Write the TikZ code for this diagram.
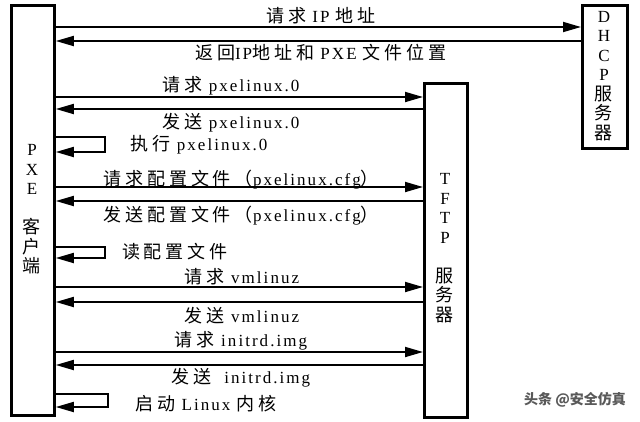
\documentclass[tikz,border=0pt]{standalone}
\usepackage{fontspec}
\setmainfont{Liberation Serif}[LetterSpace=12]
\newfontfamily\cjk{Noto Sans CJK SC}[LetterSpace=22,Scale=1.06]
\newfontfamily\cjkplain{Noto Sans CJK SC}
\newcommand\zh[1]{{\cjk #1}}
\usetikzlibrary{arrows.meta}
\begin{document}
\begin{tikzpicture}[x=1pt,y=-1pt,
  box/.style={draw, line width=2.8pt, inner sep=0pt, anchor=north west},
  msg/.style={line width=1.8pt, -{Triangle[length=18pt,width=10pt]}},
  lbl/.style={font=\fontsize{17}{20}\selectfont, inner sep=0pt},
  vlbl/.style={font=\fontsize{17}{19.5}\selectfont, inner sep=0pt, align=center},
  wm/.style={font=\cjkplain\bfseries\fontsize{14}{16}\selectfont, text=black!65, inner sep=0pt}]
\fill[white] (0,0) rectangle (640,421);
\useasboundingbox (0,0) rectangle (640,421);

% boxes
\node[box, minimum width=43pt, minimum height=410pt] (pxe) at (10,4) {};
\node[box, minimum width=45pt, minimum height=143pt] (dhcp) at (581,4) {};
\node[box, minimum width=43pt, minimum height=334pt] (tftp) at (423,82) {};

% box texts
\node[vlbl] (pxet) at (32,209.5) {P\\X\\E\\[19.5pt]\zh{客}\\\zh{户}\\\zh{端}};
\node[vlbl] (dhcpt) at (604,76) {D\\H\\C\\P\\\zh{服}\\\zh{务}\\\zh{器}};
\node[vlbl] (tftpt) at (445,248) {T\\F\\T\\P\\[19.5pt]\zh{服}\\\zh{务}\\\zh{器}};

% message levels
\coordinate (m1) at (0,27);
\coordinate (m2) at (0,41);
\coordinate (m3) at (0,97);
\coordinate (m4) at (0,109);
\coordinate (l1t) at (105,137);
\coordinate (l1b) at (0,152);
\coordinate (m6) at (0,187);
\coordinate (m7) at (0,201);
\coordinate (l2t) at (105,247);
\coordinate (l2b) at (0,258);
\coordinate (m9) at (0,287);
\coordinate (m10) at (0,302);
\coordinate (m11) at (0,352);
\coordinate (m12) at (0,365);
\coordinate (l3t) at (108,394);
\coordinate (l3b) at (0,407);

% connectors
\draw[msg] (pxe.east |- m1) -- (dhcp.west |- m1);
\draw[msg] (dhcp.west |- m2) -- (pxe.east |- m2);
\draw[msg] (pxe.east |- m3) -- (tftp.west |- m3);
\draw[msg] (tftp.west |- m4) -- (pxe.east |- m4);
\draw[msg] (pxe.east |- l1t) -- (l1t) |- (pxe.east |- l1b);
\draw[msg] (pxe.east |- m6) -- (tftp.west |- m6);
\draw[msg] (tftp.west |- m7) -- (pxe.east |- m7);
\draw[msg] (pxe.east |- l2t) -- (l2t) |- (pxe.east |- l2b);
\draw[msg] (pxe.east |- m9) -- (tftp.west |- m9);
\draw[msg] (tftp.west |- m10) -- (pxe.east |- m10);
\draw[msg] (pxe.east |- m11) -- (tftp.west |- m11);
\draw[msg] (tftp.west |- m12) -- (pxe.east |- m12);
\draw[msg] (pxe.east |- l3t) -- (l3t) |- (pxe.east |- l3b);

% labels
\node[lbl] (t1) at (321,16) {\zh{请求} IP \zh{地址}};
\node[lbl] (t2) at (321,53) {\zh{返回}IP\zh{地址和} PXE \zh{文件位置}};
\node[lbl] (t3) at (231,86) {\zh{请求} pxelinux.0};
\node[lbl] (t4) at (231,123) {\zh{发送} pxelinux.0};
\node[lbl] (t5) at (199,145) {\zh{执行} pxelinux.0};
\node[lbl] (t6) at (241,180) {\zh{请求配置文件（}pxelinux.cfg\zh{）}};
\node[lbl] (t7) at (241,216) {\zh{发送配置文件（}pxelinux.cfg\zh{）}};
\node[lbl] (t8) at (175,252) {\zh{读配置文件}};
\node[lbl] (t9) at (242,277) {\zh{请求} vmlinuz};
\node[lbl] (t10) at (242,316) {\zh{发送} vmlinuz};
\node[lbl] (t11) at (241,341) {\zh{请求} initrd.img};
\node[lbl] (t12) at (241,378) {\zh{发送}\ \ initrd.img};
\node[lbl] (t13) at (206,404) {\zh{启动} Linux \zh{内核}};

% watermark
\node[wm] (w) at (575,400) {头条 @安全仿真};
\end{tikzpicture}
\end{document}
